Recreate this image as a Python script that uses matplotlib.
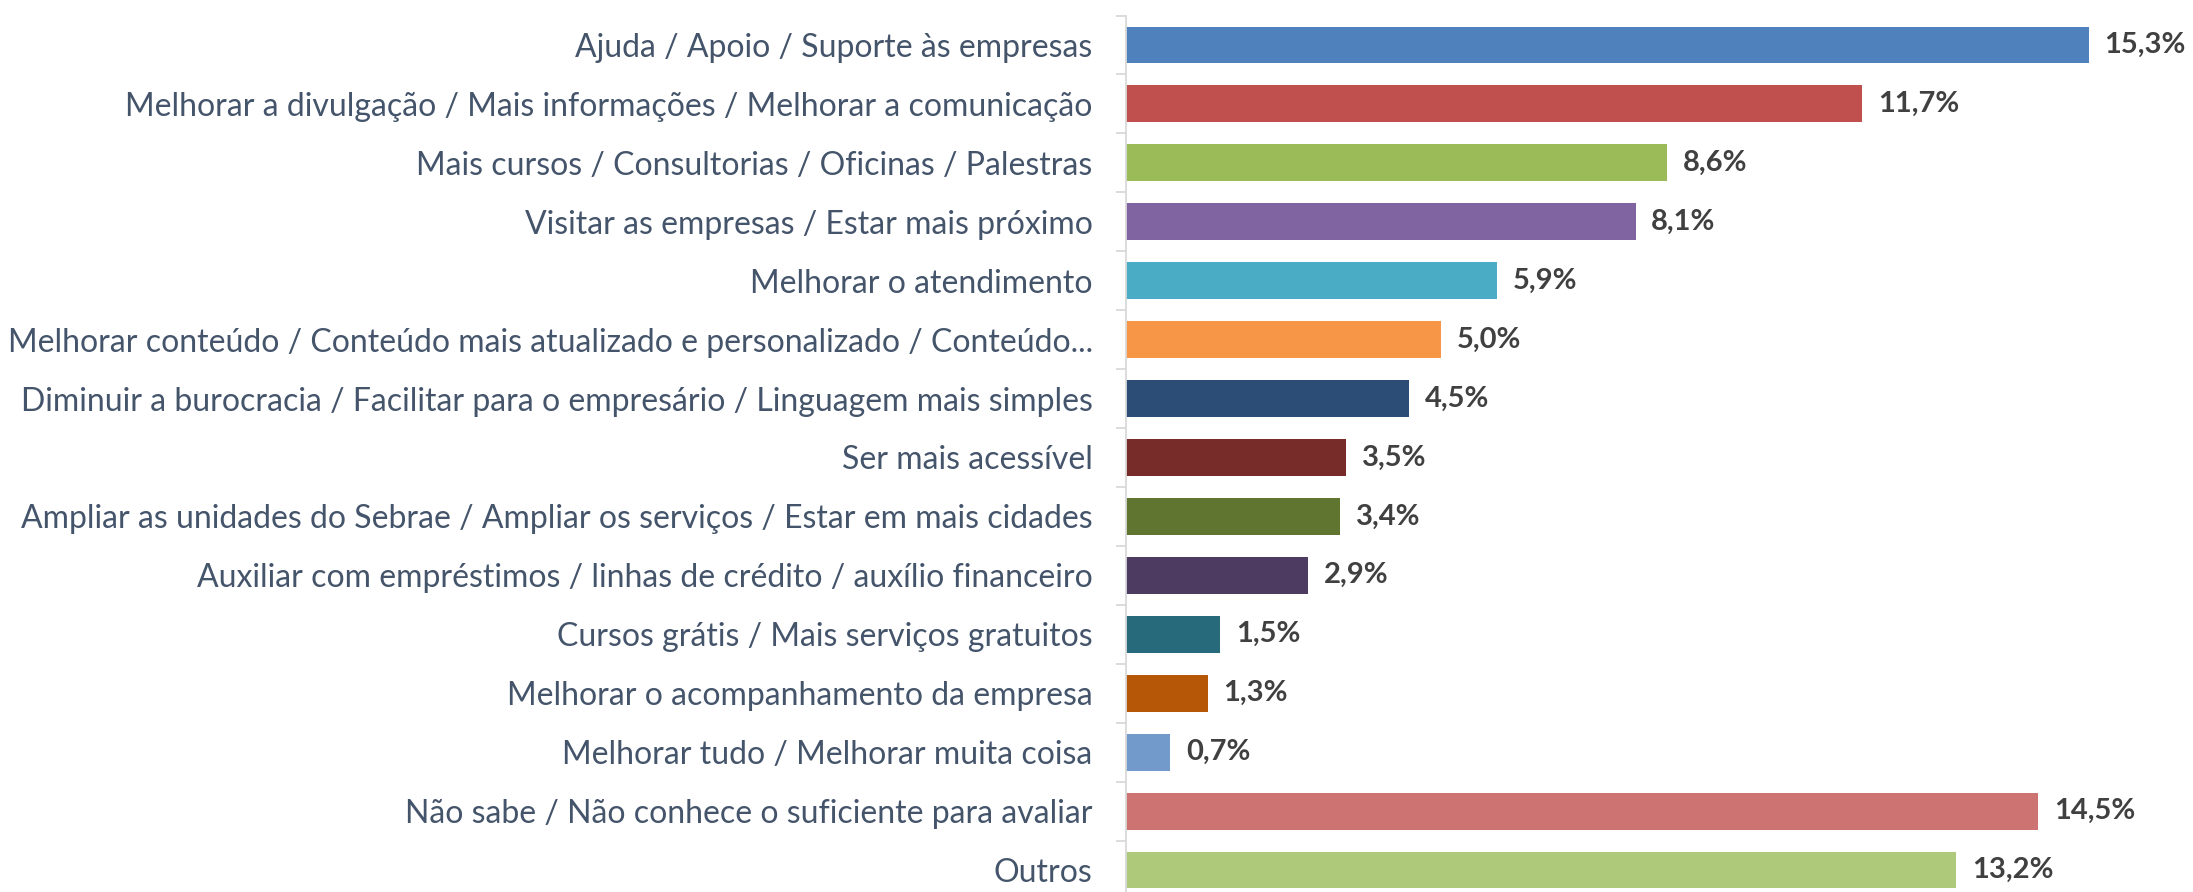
import matplotlib
matplotlib.use("Agg")
import matplotlib.pyplot as plt
from matplotlib.ticker import FixedLocator

categories = [
    "Ajuda / Apoio / Suporte às empresas",
    "Melhorar a divulgação / Mais informações / Melhorar a comunicação",
    "Mais cursos / Consultorias / Oficinas / Palestras",
    "Visitar as empresas / Estar mais próximo",
    "Melhorar o atendimento",
    "Melhorar conteúdo / Conteúdo mais atualizado e personalizado / Conteúdo...",
    "Diminuir a burocracia / Facilitar para o empresário / Linguagem mais simples",
    "Ser mais acessível",
    "Ampliar as unidades do Sebrae / Ampliar os serviços / Estar em mais cidades",
    "Auxiliar com empréstimos / linhas de crédito / auxílio financeiro",
    "Cursos grátis / Mais serviços gratuitos",
    "Melhorar o acompanhamento da empresa",
    "Melhorar tudo / Melhorar muita coisa",
    "Não sabe / Não conhece o suficiente para avaliar",
    "Outros",
]
values = [15.3, 11.7, 8.6, 8.1, 5.9, 5.0, 4.5, 3.5, 3.4, 2.9, 1.5, 1.3, 0.7, 14.5, 13.2]
colors = ["#4F81BD", "#C0504D", "#9BBB59", "#8064A2", "#4BACC6", "#F79646",
          "#2C4D75", "#772C2A", "#5F7530", "#4D3B62", "#276A7C", "#B65708",
          "#729ACA", "#CD7371", "#AFC97A"]

plt.rcParams["font.family"] = ["Lato", "DejaVu Sans"]

W, H = 2193, 892
fig = plt.figure(figsize=(W / 100, H / 100), dpi=100)
ax = fig.add_axes([1126 / W, 0.0, 1 - 1126 / W, 1 - 15.5 / H])

pos = list(range(len(values)))
ax.barh(pos, values, height=0.625, color=colors)

for y, v in zip(pos, values):
    ax.text(v + 0.25, y, ("%.1f" % v).replace(".", ",") + "%",
            va="center", ha="left", fontsize=21, fontweight="bold", color="#404040")

ax.set_xlim(0, 16.96)
ax.set_ylim(14.373, -0.5)
ax.set_yticks(pos)
ax.set_yticklabels(categories, fontsize=23, color="#44546A")
ax.tick_params(axis="y", which="major", length=0, pad=24)
ax.yaxis.set_minor_locator(FixedLocator([p - 0.5 for p in pos] + [14.5]))
ax.tick_params(axis="y", which="minor", length=7, color="#D9D9D9", width=1.3)
ax.set_xticks([])

for s in ["top", "right", "bottom"]:
    ax.spines[s].set_visible(False)
ax.spines["left"].set_color("#D9D9D9")
ax.spines["left"].set_linewidth(1.3)

fig.savefig("out.png", dpi=100)
